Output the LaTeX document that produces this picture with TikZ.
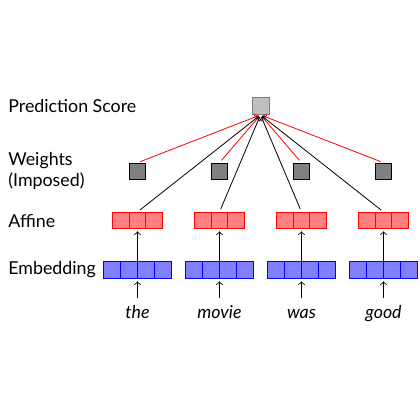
\documentclass[tikz,border=0pt]{standalone}
\usepackage{fontspec}
\setmainfont{Lato}
\usetikzlibrary{calc}
\begin{document}
\begin{tikzpicture}[x=0.5pt,y=-0.5pt,
  lab/.style={anchor=west, inner sep=0pt, font=\fontsize{8.9}{10.2}\selectfont, align=left},
  wordnode/.style={anchor=base, inner sep=0pt, outer sep=0pt, text height=10pt, font=\fontsize{8.9}{10}\selectfont\itshape},
  predbox/.style={draw=gray, fill=gray!50, minimum size=8.5pt, inner sep=0pt},
  wbox/.style={draw=black, fill=gray, minimum size=8.2pt, inner sep=0pt},
  cells/.style n args={2}{inner sep=0pt, path picture={
      \foreach \i in {1,...,\numexpr#1-1\relax}{
        \draw[#2] ($(path picture bounding box.south west)!\i/#1!(path picture bounding box.south east)$) --
                  ($(path picture bounding box.north west)!\i/#1!(path picture bounding box.north east)$);}}},
  embbox/.style={draw=blue, fill=blue!50, minimum width=33.75pt, minimum height=8.6pt, cells={4}{blue}},
  affbox/.style={draw=red, fill=red!50, minimum width=25pt, minimum height=8pt, cells={3}{red}},
  redline/.style={red, ->, shorten <=1.5pt, shorten >=1pt},
  blackline/.style={black, ->, shorten <=1.5pt, shorten >=1pt},
  uparrow/.style={black, ->, shorten >=1.3pt}
]
\useasboundingbox (0,0) rectangle (420,420);

\node[lab] (lpred) at (8,106) {Prediction Score};
\node[lab] (lw) at (8,171) {Weights\\(Imposed)};
\node[lab] (laff) at (8,221) {Affine};
\node[lab] (lemb) at (8,269.5) {Embedding};

\node[predbox] (pred) at (260.5,106) {};

\foreach \n/\x/\word in {1/137.5/the, 2/219.5/movie, 3/301.5/was, 4/383.5/good}{
  \node[wbox] (w\n) at (\x,171.3) {};
  \node[affbox] (a\n) at (\x,220.3) {};
  \node[embbox] (e\n) at (\x,269.7) {};
  \node[wordnode] (t\n) at (\x,318) {\word};
}

\foreach \n in {1,...,4}{
  \draw[redline] (w\n.north) -- (pred.south);
  \draw[blackline] (a\n.north) -- (pred.south);
  \draw[uparrow] (e\n.north) -- (a\n.south);
  \draw[uparrow] (t\n.north) -- (e\n.south);
}
\end{tikzpicture}
\end{document}
